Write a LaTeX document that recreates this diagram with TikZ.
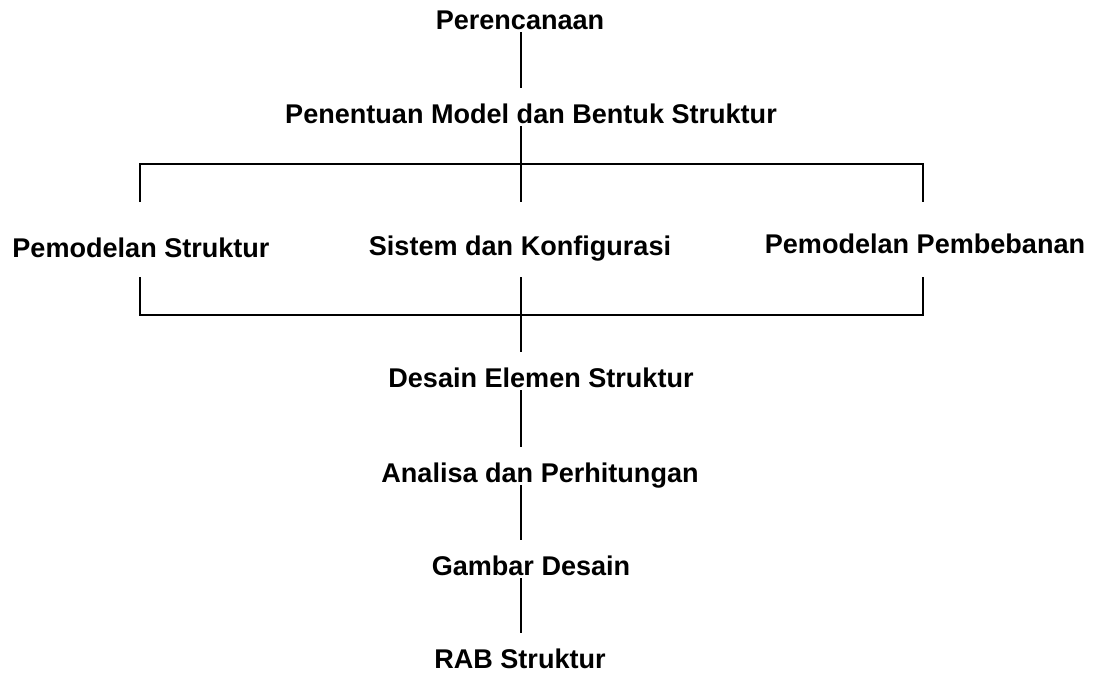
\documentclass[tikz,border=0pt]{standalone}
\usepackage{fontspec}
\setmainfont{Liberation Sans}
\usepackage{tikz}
\usetikzlibrary{calc}

\tikzset{
  step label/.style={font=\fontsize{15.4}{18}\selectfont\bfseries, anchor=base,
    inner xsep=0pt, inner ysep=0pt, text height=20pt, text depth=1.7pt},
  link/.style={line width=1.1pt}
}

\begin{document}
\begin{tikzpicture}[x=0.02cm,y=-0.02cm]
\useasboundingbox (0,0) rectangle (1101,677);

% spine of the chart
\coordinate (sp) at (521,0);

% Steps
\node[step label] (per) at (520,29) {Perencanaan};
\node[step label] (pen) at (531,123) {Penentuan Model dan Bentuk Struktur};
\node[step label] (pms) at (141,257) {Pemodelan Struktur};
\node[step label] (sis) at (520,255) {Sistem dan Konfigurasi};
\node[step label] (pmb) at (925,253) {Pemodelan Pembebanan};
\node[step label] (des) at (541,387) {Desain Elemen Struktur};
\node[step label] (ana) at (540,482) {Analisa dan Perhitungan};
\node[step label] (gam) at (531,575) {Gambar Desain};
\node[step label] (rab) at (520,668) {RAB Struktur};

% Upper bracket
\coordinate (ul) at (140,164);
\coordinate (ur) at (923,164);
\draw[link] (per.south -| sp) -- (pen.north -| sp);
\draw[link] (pen.south -| sp) -- (sp |- 0,202);
\draw[link] (ul |- 0,202) -- (ul) -- (ur) -- (ur |- 0,202);

% Lower bracket
\coordinate (ll) at (140,315);
\coordinate (lr) at (923,315);
\draw[link] (ll |- 0,277) -- (ll) -- (lr) -- (lr |- 0,277);
\draw[link] (sp |- 0,277) -- (des.north -| sp);

% Remaining steps
\draw[link] (des.south -| sp) -- (ana.north -| sp);
\draw[link] (ana.south -| sp) -- (gam.north -| sp);
\draw[link] (gam.south -| sp) -- (rab.north -| sp);
\end{tikzpicture}
\end{document}
